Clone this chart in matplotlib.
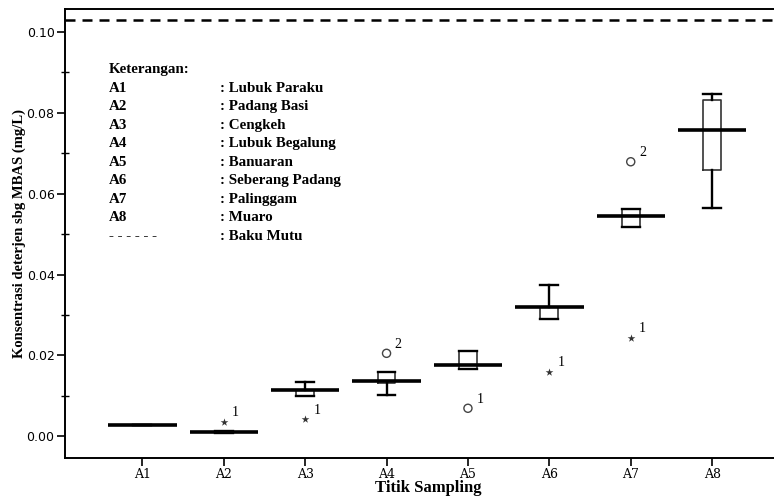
import matplotlib
matplotlib.use("Agg")
import matplotlib.pyplot as plt
from matplotlib.ticker import MultipleLocator

# --- data (mg/L) ---
sites = ["A1", "A2", "A3", "A4", "A5", "A6", "A7", "A8"]
medians = [0.0027, 0.0011, 0.0114, 0.0136, 0.0176, 0.0319, 0.0545, 0.0757]
q1 = [0.0027, 0.0008, 0.0099, 0.0131, 0.0165, 0.0289, 0.0518, 0.0658]
q3 = [0.0027, 0.0013, 0.0114, 0.0158, 0.0211, 0.0319, 0.0562, 0.0833]
whislo = [0.0027, 0.0008, 0.0099, 0.0101, 0.0165, 0.0289, 0.0518, 0.0565]
whishi = [0.0027, 0.0013, 0.0133, 0.0158, 0.0211, 0.0373, 0.0562, 0.0847]

# outliers: (site position, value, case label)
circle_site = [4, 5, 7]
circle_val = [0.0205, 0.0069, 0.0679]
circle_lab = ["2", "1", "2"]
star_site = [2, 3, 6, 7]
star_val = [0.0035, 0.0042, 0.0159, 0.0243]
star_lab = ["1", "1", "1", "1"]

baku_mutu = 0.103

legend_codes = ["A1", "A2", "A3", "A4", "A5", "A6", "A7", "A8", "- - - - - -"]
legend_names = ["Lubuk Paraku", "Padang Basi", "Cengkeh", "Lubuk Begalung",
                "Banuaran", "Seberang Padang", "Palinggam", "Muaro", "Baku Mutu"]

SERIF = "Liberation Serif"

fig = plt.figure(figsize=(7.74, 4.97), dpi=100)
ax = fig.add_axes([0.084, 0.0785, 0.916, 0.9034])

pos = list(range(1, len(sites) + 1))
stats = [dict(med=m, q1=a, q3=b, whislo=lo, whishi=hi, fliers=[])
         for m, a, b, lo, hi in zip(medians, q1, q3, whislo, whishi)]
ax.bxp(stats, positions=pos, widths=0.22, capwidths=0.22, showfliers=False,
       boxprops=dict(color="#333333", lw=1.2),
       whiskerprops=dict(color="black", lw=1.7),
       capprops=dict(color="black", lw=1.7),
       medianprops=dict(lw=0))
ax.hlines(medians, [p - 0.42 for p in pos], [p + 0.42 for p in pos],
          color="black", lw=2.6, zorder=4)

ax.scatter(circle_site, circle_val, s=34, facecolors="none", edgecolors="#444444",
           lw=1.0, zorder=5)
ax.scatter(star_site, star_val, marker="*", s=34, color="#333333", lw=0, zorder=5)
for xs, ys, ls in ((circle_site, circle_val, circle_lab), (star_site, star_val, star_lab)):
    for x, y, l in zip(xs, ys, ls):
        ax.annotate(l, (x, y), xytext=(6, 4), textcoords="offset points",
                    fontsize=10, family=SERIF)

ax.axhline(baku_mutu, color="black", lw=1.8, ls=(0, (4, 2.8)))

ax.set_xlim(0.05, 8.76)
ax.set_ylim(-0.0054, 0.1057)
ax.set_xticks(pos)
ax.set_xticklabels(sites, family="DejaVu Serif", fontsize=9)
ax.yaxis.set_major_locator(MultipleLocator(0.02))
ax.yaxis.set_minor_locator(MultipleLocator(0.01))
ax.set_yticks([0.0, 0.02, 0.04, 0.06, 0.08, 0.10])
ax.set_yticklabels(["0.00", "0.02", "0.04", "0.06", "0.08", "0.10"],
                   family="DejaVu Sans", fontsize=9)
ax.set_ylim(-0.0054, 0.1057)
ax.tick_params(axis="both", which="major", direction="out", length=6, width=1.2, pad=1.5)
ax.tick_params(axis="y", which="minor", direction="inout", length=6, width=1.0)
ax.spines["right"].set_visible(False)
for s in ("left", "bottom", "top"):
    ax.spines[s].set_linewidth(1.4)

ax.set_xlabel("Titik Sampling", family=SERIF, fontweight="bold", fontsize=12)
ax.xaxis.set_label_coords(0.512, -0.05)
ax.set_ylabel("Konsentrasi deterjen sbg MBAS (mg/L)", family=SERIF, fontweight="bold",
              fontsize=10.5)
ax.yaxis.set_label_coords(-0.055, 0.5)

# legend-like text block
ax.text(0.0623, 0.866, "Keterangan:", transform=ax.transAxes, family=SERIF,
        fontweight="bold", fontsize=10.8, va="center")
for i, (c, n) in enumerate(zip(legend_codes, legend_names)):
    y = 0.824 - i * 0.0412
    ax.text(0.0623, y, c, transform=ax.transAxes, family=SERIF, fontweight="bold",
            fontsize=10.8, va="center")
    ax.text(0.218, y, ": " + n, transform=ax.transAxes, family=SERIF, fontweight="bold",
            fontsize=10.8, va="center")

fig.savefig("out.png", dpi=100)
